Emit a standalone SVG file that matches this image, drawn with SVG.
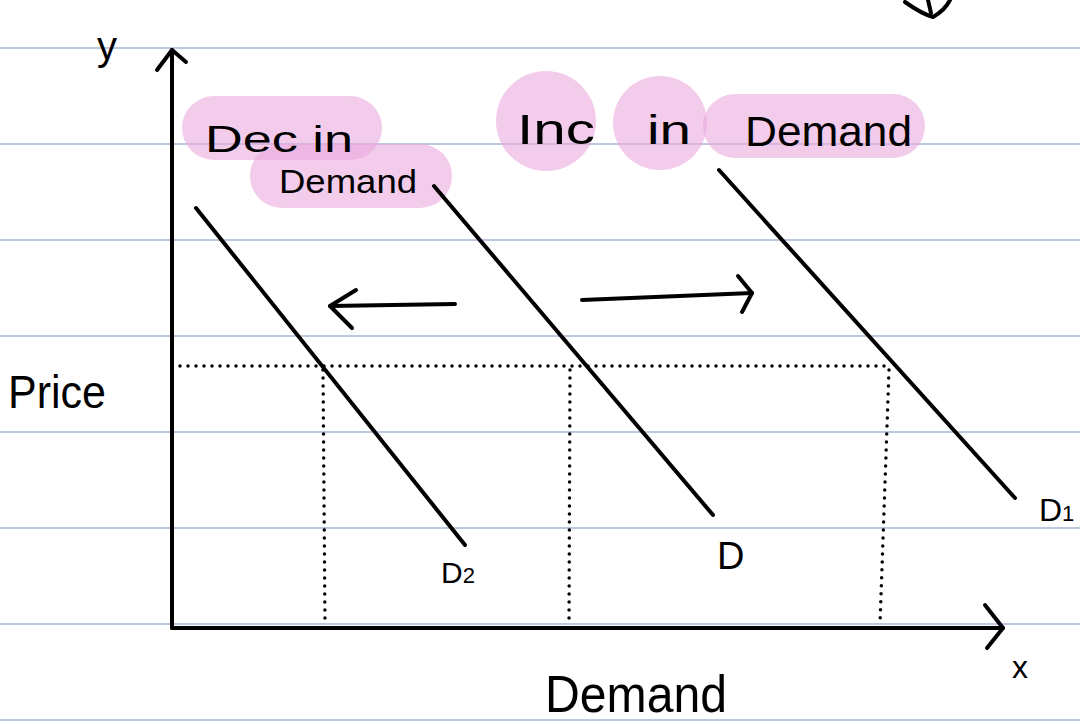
<svg xmlns="http://www.w3.org/2000/svg" width="1080" height="724" viewBox="0 0 1080 724">
<defs>
<style>
.rule{stroke:#bcc8de;stroke-width:2}
.ink{stroke:#000;stroke-width:4;fill:none;stroke-linecap:round;stroke-linejoin:round}
.dot{stroke:#000;stroke-width:3.5;fill:none;stroke-linecap:round;stroke-dasharray:0 8}
.hl{fill:#eba9de;fill-opacity:0.6}
.t{font-family:"Liberation Sans","DejaVu Sans",sans-serif;fill:#000}
</style>
</defs>
<rect width="1080" height="724" fill="#fff"/>
<g id="ruling">
<line class="rule" x1="0" y1="48" x2="1080" y2="48"/>
<line class="rule" x1="0" y1="144" x2="1080" y2="144"/>
<line class="rule" x1="0" y1="240" x2="1080" y2="240"/>
<line class="rule" x1="0" y1="336" x2="1080" y2="336"/>
<line class="rule" x1="0" y1="432" x2="1080" y2="432"/>
<line class="rule" x1="0" y1="528" x2="1080" y2="528"/>
<line class="rule" x1="0" y1="624" x2="1080" y2="624"/>
<line class="rule" x1="0" y1="720" x2="1080" y2="720"/>
</g>
<g id="highlights">
<rect class="hl" x="182" y="96" width="200" height="64" rx="32"/>
<rect class="hl" x="250" y="144" width="202" height="64" rx="32"/>
<circle class="hl" cx="546" cy="121" r="50"/>
<circle class="hl" cx="660" cy="123" r="47"/>
<rect class="hl" x="703" y="94" width="222" height="64" rx="32"/>
</g>
<g id="axes">
<path class="ink" d="M172,628 L172,50"/>
<path class="ink" d="M157,70 L172,50 L186,62"/>
<path class="ink" d="M172,628 L1003,628"/>
<path class="ink" d="M985,605 L1003,628 L987,648"/>
</g>
<g id="top-arrow">
<path class="ink" d="M905,2 Q922,14 933,17 Q945,10 950,0"/>
<path class="ink" d="M928,0 L931,13"/>
</g>
<g id="curves">
<g id="D2"><path class="ink" d="M196,208 L465,545"/></g>
<g id="D"><path class="ink" d="M434,186 L713,515"/></g>
<g id="D1"><path class="ink" d="M719,170 L1015,498"/></g>
</g>
<g id="guides">
<path class="dot" d="M180,366 L892,366"/>
<path class="dot" d="M323,370 L325,624"/>
<path class="dot" d="M570,370 L569,624"/>
<path class="dot" d="M889,370 L880,624"/>
</g>
<g id="connectors">
<path class="ink" d="M455,304 L330,306"/>
<path class="ink" d="M356,290 L330,306 L352,328"/>
<path class="ink" d="M582,300 L752,293"/>
<path class="ink" d="M738,276 L752,293 L742,312"/>
</g>
<g id="labels">
<text class="t" x="97" y="60" font-size="40">y</text>
<text class="t" x="1012" y="678" font-size="32">x</text>
<text class="t" x="8" y="408" font-size="46" textLength="98" lengthAdjust="spacingAndGlyphs">Price</text>
<text class="t" x="205" y="152" font-size="36" textLength="148" lengthAdjust="spacingAndGlyphs">Dec in</text>
<text class="t" x="279" y="193" font-size="34" textLength="138" lengthAdjust="spacingAndGlyphs">Demand</text>
<text class="t" x="517" y="144" font-size="42" textLength="78" lengthAdjust="spacingAndGlyphs">Inc</text>
<text class="t" x="647" y="144" font-size="40" textLength="44" lengthAdjust="spacingAndGlyphs">in</text>
<text class="t" x="745" y="146" font-size="42" textLength="167" lengthAdjust="spacingAndGlyphs">Demand</text>
<text class="t" x="441" y="583" font-size="30">D<tspan font-size="22">2</tspan></text>
<text class="t" x="717" y="569" font-size="38">D</text>
<text class="t" x="1039" y="521" font-size="32">D<tspan font-size="22">1</tspan></text>
<text class="t" x="545" y="712" font-size="52" textLength="182" lengthAdjust="spacingAndGlyphs">Demand</text>
</g>
</svg>
